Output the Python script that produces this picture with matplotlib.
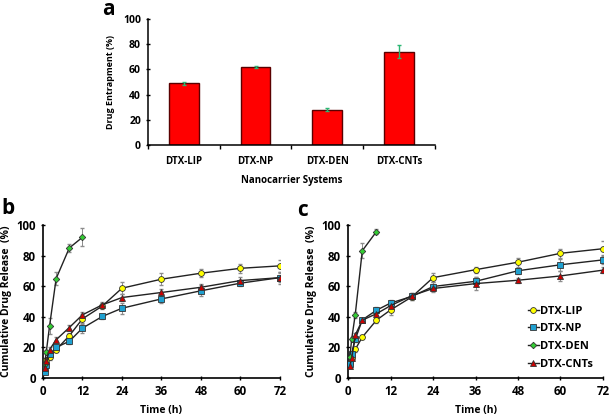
import matplotlib
matplotlib.use("Agg")
import matplotlib.pyplot as plt
import numpy as np

plt.rcParams['font.family'] = ['Open Sans', 'DejaVu Sans']
plt.rcParams['font.weight'] = 'bold'

# Panel a data
systems = ["DTX-LIP", "DTX-NP", "DTX-DEN", "DTX-CNTs"]
entrapment = [49, 62, 28, 74]
entrapment_err = [1.2, 1.0, 1.2, 5.0]

# Panel b data (time in h)
t_full = [0.5, 1, 2, 4, 8, 12, 18, 24, 36, 48, 60, 72]
t_den_b = [0.5, 1, 2, 4, 8, 12]
b_lip = [7, 12, 13.5, 18.5, 27.6, 38.7, 47, 58.7, 64.6, 68.5, 71.7, 73.3]
b_np = [4, 8.7, 15.4, 20, 24, 32.6, 40.2, 45.6, 51.7, 57, 62, 65.6]
b_den = [9, 17, 34, 65, 85, 92]
b_cnt = [6.5, 11, 18.5, 25, 33, 41.3, 47.8, 52.6, 55.9, 59.3, 63.7, 65.6]
b_lip_err = [1, 1, 1.5, 1.5, 2, 3, 2, 4, 4, 2.5, 3, 4]
b_np_err = [1, 1, 1.5, 1.5, 1.5, 3, 1.5, 3.5, 3, 3.5, 2, 3]
b_den_err = [1, 1.5, 5, 4, 2.5, 6]
b_cnt_err = [1, 1, 1.5, 1.5, 1.5, 2, 2, 2.5, 2, 2, 2, 4]

# Panel c data
t_den_c = [0.5, 1, 2, 4, 8]
c_lip = [10, 13, 18.7, 26.7, 37.8, 44.5, 53, 65.6, 70.8, 75.7, 81.5, 84.5]
c_np = [9, 16, 25.2, 38, 44.3, 49, 53.3, 59.8, 63.2, 70.1, 74, 77.2]
c_den = [14, 25.4, 41.3, 83.2, 95.7]
c_cnt = [8, 13, 28, 37.8, 42, 47.3, 53.8, 58.5, 61.7, 63.9, 66.7, 70.5]
c_lip_err = [1, 1, 1.5, 1.5, 2, 3, 2, 3, 2, 3, 3, 5]
c_np_err = [1, 1, 1.5, 1.5, 2, 2, 2, 3, 3, 2, 4, 3]
c_den_err = [1, 1.5, 2, 5, 1.5]
c_cnt_err = [1, 1, 1.5, 1.5, 1.5, 2, 2, 2.5, 4, 1.5, 3.5, 2]

xticks = [0, 12, 24, 36, 48, 60, 72]
yticks = [0, 20, 40, 60, 80, 100]

fig = plt.figure(figsize=(6.14, 4.18), dpi=100)

# ---- Panel a ----
axa = fig.add_axes([0.241, 0.653, 0.467, 0.302])
x = np.arange(len(systems))
axa.bar(x, entrapment, width=0.41, color='#ff0000', edgecolor='#5a0000', linewidth=1.0, zorder=2)
axa.errorbar(x, entrapment, yerr=entrapment_err, fmt='none', ecolor='#2bb673', elinewidth=1.0, capsize=1.5, zorder=3)
axa.set_xlim(-0.5, len(systems) - 0.5)
axa.set_ylim(0, 100)
axa.set_yticks(yticks)
axa.set_xticks(x)
axa.set_xticklabels(systems, fontsize=7, fontweight='bold')
axa.set_xticks(np.arange(-0.5, len(systems)), minor=True)
axa.tick_params(axis='x', which='major', length=0, pad=8)
axa.tick_params(axis='x', which='minor', length=3, width=1, direction='out')
axa.tick_params(axis='y', labelsize=7.5, length=3, width=1, direction='inout')
for lab in axa.get_yticklabels():
    lab.set_fontweight('bold')
axa.spines['top'].set_visible(False)
axa.spines['right'].set_visible(False)
axa.spines['left'].set_linewidth(1.1)
axa.spines['bottom'].set_linewidth(1.1)
axa.set_ylabel('Drug Entrapment (%)', fontsize=6.5, fontweight='bold', labelpad=6)
axa.set_xlabel('Nanocarrier Systems', fontsize=7, fontweight='bold', labelpad=6)
fig.text(0.176, 0.978, 'a', fontsize=15, fontweight='bold', ha='center', va='center')

styles = [
    ('DTX-LIP', 'o', '#ffff00', 4.2),
    ('DTX-NP', 's', '#1fa0d0', 3.7),
    ('DTX-DEN', 'D', '#33cc33', 3.3),
    ('DTX-CNTs', '^', '#cc0000', 4.0),
]

def release_panel(ax, series):
    for (name, mk, col, ms), (tt, vv, ee) in zip(styles, series):
        ax.errorbar(tt, vv, yerr=ee, fmt='none', ecolor='#8c8c8c', elinewidth=0.7, capsize=1.2, zorder=2)
        ax.plot(tt, vv, color='#222222', lw=1.0, marker=mk, ms=ms, mfc=col, mec='#333333', mew=0.6,
                label=name, zorder=3)
    ax.set_xlim(0, 72)
    ax.set_ylim(0, 100)
    ax.set_xticks(xticks)
    ax.set_yticks(yticks)
    ax.tick_params(labelsize=8.3, length=3.5, width=1, direction='inout')
    for lab in ax.get_xticklabels() + ax.get_yticklabels():
        lab.set_fontweight('bold')
    ax.spines['top'].set_visible(False)
    ax.spines['right'].set_visible(False)
    ax.spines['left'].set_linewidth(1.2)
    ax.spines['bottom'].set_linewidth(1.2)
    ax.set_xlabel('Time (h)', fontsize=7.5, fontweight='bold', labelpad=5)
    ax.set_ylabel('Cumulative Drug Release  (%)', fontsize=7.5, fontweight='bold', labelpad=3)

axb = fig.add_axes([0.070, 0.0957, 0.386, 0.366])
release_panel(axb, [(t_full, b_lip, b_lip_err), (t_full, b_np, b_np_err),
                    (t_den_b, b_den, b_den_err), (t_full, b_cnt, b_cnt_err)])
fig.text(0.013, 0.502, 'b', fontsize=15, fontweight='bold', ha='center', va='center')

axc = fig.add_axes([0.567, 0.0957, 0.415, 0.366])
release_panel(axc, [(t_full, c_lip, c_lip_err), (t_full, c_np, c_np_err),
                    (t_den_c, c_den, c_den_err), (t_full, c_cnt, c_cnt_err)])
fig.text(0.492, 0.497, 'c', fontsize=15, fontweight='bold', ha='center', va='center')
leg = axc.legend(loc='lower right', bbox_to_anchor=(1.0, -0.01), frameon=False, fontsize=8,
                 handlelength=1.0, handletextpad=0.1, labelspacing=0.6, markerscale=1.0)
for t in leg.get_texts():
    t.set_fontweight('bold')

fig.savefig('out.png', dpi=100)
